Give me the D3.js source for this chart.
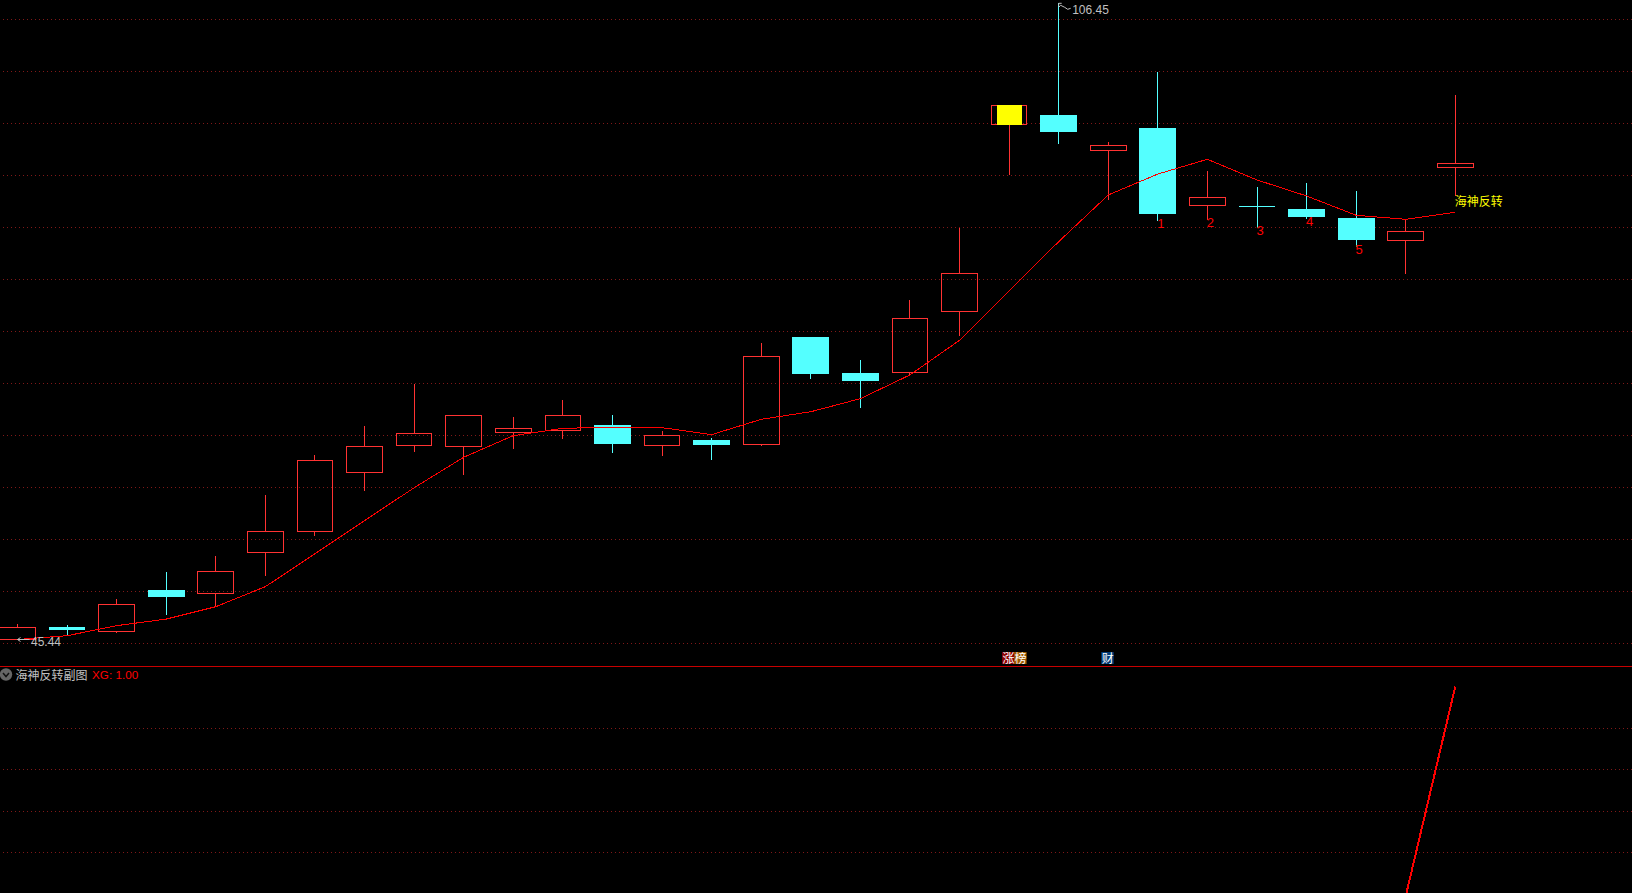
<!DOCTYPE html>
<html><head><meta charset="utf-8"><style>
html,body{margin:0;padding:0;background:#000;overflow:hidden}
svg{display:block}
text{font-family:"Liberation Sans","Noto Sans CJK SC",sans-serif;font-size:12px}
.cjk{font-family:"Noto Sans CJK SC",sans-serif}
</style></head><body><svg id="c" width="1632" height="893"></svg>
<script src="https://cdn.jsdelivr.net/npm/d3@7"></script>
<script>
const opens =[45.45,46.21,45.92,48.55,48.31,51.04,52.52,56.83,58.92,58.85,59.96,60.12,60.55,58.89,59.34,58.97,68.11,64.91,64.94,70.50,90.49,91.67,87.40,90.09,81.19,81.13,80.84,79.87,77.48,85.43];
const closes=[46.19,46.02,47.63,48.10,49.78,52.52,57.75,58.85,59.85,61.34,60.28,61.34,59.03,59.72,58.95,66.38,64.82,64.22,69.84,74.17,92.87,89.61,88.03,80.30,82.11,81.13,79.98,77.55,78.46,85.93];
const highs =[46.39,46.33,47.95,49.74,50.81,55.13,58.16,60.47,63.96,61.34,61.20,62.61,61.36,60.06,59.50,67.57,68.11,66.05,71.57,78.84,92.87,106.45,88.42,97.10,85.05,83.25,83.70,82.81,79.73,94.16];
const lows  =[45.44,45.65,45.84,46.95,47.50,49.47,52.19,55.45,58.40,56.65,58.66,59.45,58.32,58.11,57.80,58.87,64.39,61.94,64.65,68.23,84.60,88.22,81.82,79.55,79.66,78.84,79.79,76.86,74.15,82.29];
const ma    =[45.44,45.67,46.29,46.70,47.48,48.77,50.97,53.28,55.67,57.99,59.69,60.28,60.36,60.33,59.77,61.01,61.63,62.72,64.74,67.81,72.47,77.38,82.37,84.71,86.40,84.04,82.26,80.16,79.73,80.48];
const xg    =[0,0,0,0,0,0,0,0,0,0,0,0,0,0,0,0,0,0,0,0,0,0,0,0,0,0,0,0,0,1];
const priceGrid=[104.17,97.17,90.63,84.54,78.86,73.56,68.62,64.00,59.70,55.69,51.95,48.45,45.20];
const subGrid=[0.799,0.605,0.404,0.209];
const yellowDays=[20];
const countLabels=[[23,"1"],[24,"2"],[25,"3"],[26,"4"],[27,"5"]];
const signalDay=29, signalText="海神反转";
const maxDay=21, minDay=0;
const indicatorName="海神反转副图", indicatorValue="XG: 1.00";
const badges=[{day:20,t:"涨",bg:"#8c0000",dx:-7},{day:20,t:"榜",bg:"#a05a00",dx:5},{day:22,t:"财",bg:"#003c78",dx:-7}];

const svg=d3.select("#c");
const RED="#ff3232",CYAN="#54ffff",LINE="#ff0000",GREY="#c0c0c0";
const step=49.58,left=17.5-step/2;
const x=d3.scaleBand().domain(d3.range(opens.length)).range([left,left+step*opens.length]).paddingInner(0.28).paddingOuter(0.14);
const cx=i=>x(i)+x.bandwidth()/2;
const y=d3.scaleLog().domain([45.44,106.45]).range([639.5,3.3]);
const ys=d3.scaleLinear().domain([0,1]).range([896,686.5]);

svg.append("rect").attr("width",1632).attr("height",893).attr("fill","#000");

// grid
const gridAttrs=s=>s.attr("x1",3).attr("x2",1632).attr("stroke","#801818").attr("stroke-dasharray","1 3").attr("shape-rendering","crispEdges");
svg.append("g").selectAll("line").data(priceGrid).join("line").attr("y1",d=>y(d)).attr("y2",d=>y(d)).call(gridAttrs);
svg.append("g").selectAll("line").data(subGrid).join("line").attr("y1",d=>ys(d)).attr("y2",d=>ys(d)).call(gridAttrs);

// separator
svg.append("line").attr("x1",0).attr("x2",1632).attr("y1",666.5).attr("y2",666.5).attr("stroke","#c80000").attr("shape-rendering","crispEdges");

// candles
const days=d3.range(opens.length);
const isUp=i=>closes[i]>opens[i];
const isDoji=i=>closes[i]===opens[i];
const col=i=>isUp(i)?RED:CYAN;
const bodyTop=i=>y(Math.max(opens[i],closes[i])), bodyBot=i=>y(Math.min(opens[i],closes[i]));
const g=svg.append("g").attr("shape-rendering","crispEdges");
g.selectAll(".wu").data(days).join("line").attr("class","wu").attr("x1",cx).attr("x2",cx)
 .attr("y1",i=>y(highs[i])).attr("y2",bodyTop).attr("stroke",col);
g.selectAll(".wl").data(days).join("line").attr("class","wl").attr("x1",cx).attr("x2",cx)
 .attr("y1",bodyBot).attr("y2",i=>y(lows[i])).attr("stroke",col);
// rising days: hollow body
g.selectAll(".up").data(days.filter(isUp)).join("rect").attr("class","up")
 .attr("x",i=>x(i)).attr("width",x.bandwidth())
 .attr("y",bodyTop).attr("height",i=>bodyBot(i)-bodyTop(i))
 .attr("fill","none").attr("stroke",RED);
// falling days: solid body
g.selectAll(".dn").data(days.filter(i=>!isUp(i)&&!isDoji(i))).join("rect").attr("class","dn")
 .attr("x",i=>x(i)-0.5).attr("width",x.bandwidth()+1)
 .attr("y",bodyTop).attr("height",i=>bodyBot(i)-bodyTop(i))
 .attr("fill",CYAN);
// unchanged days: a flat bar
g.selectAll(".dj").data(days.filter(isDoji)).join("line").attr("class","dj")
 .attr("x1",i=>x(i)).attr("x2",i=>x(i)+x.bandwidth())
 .attr("y1",bodyTop).attr("y2",bodyTop).attr("stroke",CYAN);
g.selectAll(".y").data(yellowDays).join("rect").attr("class","y")
 .attr("x",i=>cx(i)-12.5).attr("width",25)
 .attr("y",i=>y(closes[i])).attr("height",i=>y(opens[i])-y(closes[i]))
 .attr("fill","#ffff00");

// moving average
svg.append("path").datum(ma)
 .attr("d",d3.line().x((d,i)=>cx(i)).y(d=>y(d)))
 .attr("fill","none").attr("stroke",LINE).attr("stroke-width",1).attr("shape-rendering","crispEdges");

// indicator line
svg.append("path").datum(xg)
 .attr("d",d3.line().x((d,i)=>cx(i)).y(d=>ys(d)))
 .attr("fill","none").attr("stroke",LINE).attr("stroke-width",2).attr("shape-rendering","crispEdges");

// count labels
svg.append("g").selectAll("text").data(countLabels).join("text")
 .attr("x",d=>cx(d[0])+3).attr("y",d=>y(lows[d[0]])+7.5).attr("text-anchor","middle")
 .attr("fill","#ff0000").style("font-size","13px").text(d=>d[1]);

// signal text
svg.append("text").attr("class","cjk").attr("x",cx(signalDay)-0.5).attr("y",y(lows[signalDay])+10)
 .attr("fill","#ffff00").text(signalText);

// extreme labels
const hx=cx(maxDay),hy=y(highs[maxDay]);
svg.append("path").attr("d",`M${hx},${hy+4} L${hx+2},${hy+2} L${hx+6},${hy+4} L${hx+9},${hy+6} L${hx+12},${hy+5}`)
 .attr("fill","none").attr("stroke",GREY);
svg.append("path").attr("d",`M${hx},${hy} h3 M${hx},${hy} v3`).attr("fill","none").attr("stroke",GREY);
svg.append("text").attr("x",hx+13.5).attr("y",hy+10.5).attr("fill",GREY).text(highs[maxDay].toFixed(2));
const lx=cx(minDay),ly=y(lows[minDay]);
svg.append("path").attr("d",`M${lx},${ly} h12 M${lx},${ly} l3,-2 M${lx},${ly} l3,2`).attr("fill","none").attr("stroke",GREY);
svg.append("text").attr("x",lx+13.5).attr("y",ly+6).attr("fill",GREY).text(lows[minDay].toFixed(2));

// event badges
const bd=svg.append("g").selectAll("g").data(badges).join("g");
bd.append("rect").attr("x",d=>cx(d.day)+d.dx).attr("y",652).attr("width",12.5).attr("height",12).attr("fill",d=>d.bg);
bd.append("text").attr("class","cjk").attr("x",d=>cx(d.day)+d.dx+0.5).attr("y",662.5).attr("fill","#fff").style("font-size","12px").text(d=>d.t);

// indicator header
svg.append("circle").attr("cx",6).attr("cy",674.5).attr("r",6.2).attr("fill","#666");
svg.append("path").attr("d","M3,673 L6,676.5 L9,673").attr("fill","none").attr("stroke","#111").attr("stroke-width",1.5);
svg.append("text").attr("class","cjk").attr("x",15.5).attr("y",679.5).attr("fill",GREY).text(indicatorName);
svg.append("text").attr("x",92).attr("y",679).attr("fill","#ff0000").style("font-size","11.7px").text(indicatorValue);
</script></body></html>
